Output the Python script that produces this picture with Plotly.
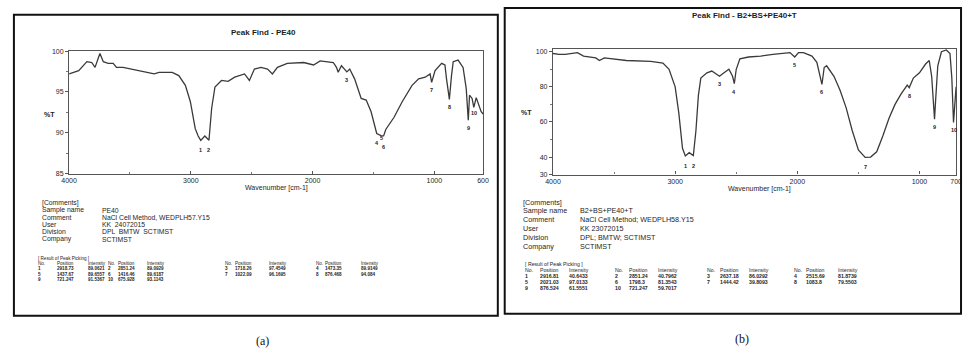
import plotly.graph_objects as go

W, H = 969, 358

# ---------------- data: panel (a) PE40 ----------------
a_wn = [4000, 3921, 3854, 3814, 3787, 3747, 3719, 3679, 3638, 3611, 3557, 3423, 3301, 3261,
        3153, 3099, 3045, 3004, 2964, 2940, 2918.73, 2885, 2851.24, 2829, 2802, 2748, 2694,
        2640, 2559, 2519, 2478, 2424, 2370, 2330, 2289, 2208, 2073, 1992, 1938, 1830, 1804,
        1790, 1763, 1718.26, 1695, 1655, 1601, 1560, 1520, 1473.35, 1437.67, 1416.46, 1399,
        1331, 1264, 1183, 1129, 1075, 1035, 1022.09, 994, 940, 913, 900, 876.468, 859, 845,
        805, 764, 738, 721.247, 711, 690, 675.928, 656, 616, 600]
a_t = [97.2, 97.6, 98.7, 98.6, 98.0, 99.7, 98.7, 98.5, 98.5, 98.0, 98.0, 97.6, 97.2, 97.4,
       97.4, 97.0, 95.8, 93.8, 90.5, 89.6, 89.06, 89.6, 89.09, 93.0, 95.6, 96.4, 96.3,
       96.8, 97.2, 96.4, 97.8, 98.0, 97.8, 97.2, 98.0, 98.5, 98.6, 98.3, 98.8, 98.6, 98.0,
       97.4, 98.2, 97.45, 97.8, 96.6, 94.2, 94.0, 92.6, 89.91, 89.66, 89.62, 90.4,
       91.9, 93.8, 95.8, 96.6, 96.8, 97.2, 96.17, 97.6, 98.5, 98.3, 96.6, 94.08, 97.0, 98.7,
       98.9, 98.0, 95.4, 91.54, 94.6, 94.2, 93.11, 94.3, 92.6, 92.3]

a_peak_no = [1, 2, 3, 4, 5, 6, 7, 8, 9, 10]
a_peak_pos = ["2918.73", "2851.24", "1718.26", "1473.35", "1437.67", "1416.46", "1022.09",
              "876.468", "721.247", "675.928"]
a_peak_int = ["89.0621", "89.0929", "97.4549", "89.9149", "89.6557", "89.6187", "96.1695",
              "94.084", "91.5367", "93.1143"]

# ---------------- data: panel (b) B2+BS+PE40+T ----------------
b_wn = [4000, 3950, 3900, 3800, 3750, 3650, 3620, 3580, 3400, 3200, 3100, 3050, 3000, 2970,
        2940, 2916.81, 2885, 2851.24, 2830, 2810, 2790, 2740, 2700, 2660, 2637.18, 2600, 2560,
        2530, 2515.69, 2500, 2470, 2400, 2300, 2200, 2100, 2060, 2021.03, 1990, 1950, 1880,
        1840, 1810, 1798.3, 1780, 1760, 1700, 1650, 1600, 1550, 1500, 1444.42, 1400, 1350,
        1300, 1250, 1200, 1150, 1100, 1083.8, 1050, 1000, 950, 920, 900, 885, 876.524, 868,
        850, 820, 780, 750, 735, 721.247, 710, 700]
b_t = [99.0, 98.5, 98.5, 99.5, 97.5, 96.5, 95.0, 96.5, 95.0, 94.5, 93.5, 90.0, 80.0, 65.0,
       45.0, 40.64, 42.5, 40.80, 55.0, 75.0, 85.0, 88.0, 89.0, 87.0, 86.03, 88.0, 90.0,
       86.0, 81.87, 90.0, 96.0, 97.0, 97.5, 98.5, 99.5, 99.5, 97.01, 99.5, 99.5, 97.5,
       94.0, 86.0, 81.35, 91.0, 92.0, 86.0, 78.0, 68.0, 55.0, 44.0, 39.81, 40.0, 43.0,
       52.0, 62.0, 70.0, 76.0, 81.0, 79.55, 85.0, 88.0, 93.0, 95.0, 86.0, 70.0, 61.56, 72.0,
       92.0, 100.0, 101.0, 99.0, 85.0, 59.70, 70.0, 80.0]

b_peak_no = [1, 2, 3, 4, 5, 6, 7, 8, 9, 10]
b_peak_pos = ["2916.81", "2851.24", "2637.18", "2515.69", "2021.03", "1798.3", "1444.42",
              "1083.8", "876.524", "721.247"]
b_peak_int = ["40.6433", "40.7962", "86.0292", "81.8739", "97.0133", "81.3543", "39.8093",
              "79.5503", "61.5551", "59.7017"]

# ---------------- texts ----------------
a_title = "Peak Find - PE40"
b_title = "Peak Find - B2+BS+PE40+T"
a_xticks = [4000, 3000, 2000, 1000, 600]
b_xticks = [4000, 3000, 2000, 1000, 700]
a_yticks = [85, 90, 95, 100]
b_yticks = [30, 40, 60, 80, 100]
comment_keys = ["Sample name", "Comment", "User", "Division", "Company"]
a_comment_vals = ["PE40", "NaCl Cell Method, WEDPLH57.Y15", "KK  24072015",
                  "DPL  BMTW  SCTIMST", "SCTIMST"]
b_comment_vals = ["B2+BS+PE40+T", "NaCl Cell Method; WEDPLH58.Y15", "KK 23072015",
                  "DPL; BMTW; SCTIMST", "SCTIMST"]
panel_labels = ["(a)", "(b)"]

# ---------------- helpers ----------------
def px(x):
    return x / W

def py(y):
    return 1 - y / H

INK = "#1e1e1e"
FONT = "Liberation Sans, Arial, sans-serif"

fig = go.Figure()

fig.add_trace(go.Scatter(x=a_wn, y=a_t, mode="lines", line=dict(color="#3a3a3a", width=1.3),
                         xaxis="x", yaxis="y", showlegend=False, hoverinfo="skip"))
fig.add_trace(go.Scatter(x=b_wn, y=b_t, mode="lines", line=dict(color="#3a3a3a", width=1.3),
                         xaxis="x2", yaxis="y2", showlegend=False, hoverinfo="skip"))

line_common = dict(showline=True, mirror=True, linecolor="#555", linewidth=1.2,
                   showgrid=False, zeroline=False, tickcolor="#555",
                   tickfont=dict(family=FONT, size=7, color=INK))
x_common = dict(ticks="inside", ticklen=3,
                minor=dict(tickvals=[3500, 2500, 1500], ticks="inside", ticklen=2,
                           tickcolor="#777"), **line_common)
y_common = dict(ticks="outside", ticklen=3, **line_common)

fig.update_layout(
    width=W, height=H, autosize=False,
    margin=dict(l=0, r=0, t=0, b=0),
    paper_bgcolor="white", plot_bgcolor="white",
    xaxis=dict(domain=[px(62), px(482)], range=[4000, 600], anchor="y",
               tickvals=a_xticks, ticktext=[str(v) for v in a_xticks], **x_common),
    yaxis=dict(domain=[py(173), py(48)], range=[85, 100], anchor="x",
               tickvals=a_yticks, ticktext=[str(v) for v in a_yticks],
               minor=dict(dtick=2.5, ticks="outside", ticklen=2, tickcolor="#777"),
               **y_common),
    xaxis2=dict(domain=[px(553), px(962)], range=[4000, 700], anchor="y2",
                tickvals=b_xticks, ticktext=[str(v) for v in b_xticks], **x_common),
    yaxis2=dict(domain=[py(174), py(46)], range=[30, 101.5], anchor="x2",
                tickvals=b_yticks, ticktext=[str(v) for v in b_yticks],
                minor=dict(tickvals=[50, 70, 90], ticks="outside", ticklen=2, tickcolor="#777"),
                **y_common),
)

ann = []
shapes = []

# panel frames
shapes.append(dict(type="rect", xref="paper", yref="paper", x0=px(6), x1=px(497),
                   y0=py(318), y1=py(11), line=dict(color="#111", width=2)))
shapes.append(dict(type="rect", xref="paper", yref="paper", x0=px(504), x1=px(967),
                   y0=py(316), y1=py(4), line=dict(color="#111", width=2)))

def text(x, y, s, size=7, bold=False, anchor="left", color=INK):
    ann.append(dict(xref="paper", yref="paper", x=px(x), y=py(y), text=("<b>%s</b>" % s) if bold else s,
                    showarrow=False, xanchor=anchor, yanchor="middle",
                    font=dict(family=FONT, size=size, color=color)))

# titles
text(259, 29, a_title, size=8, bold=True, anchor="center")
text(747, 12, b_title, size=8, bold=True, anchor="center")
# axis titles
text(272, 188, "Wavenumber [cm-1]", size=7, anchor="center")
text(763, 189, "Wavenumber [cm-1]", size=7, anchor="center")
text(42, 113, "%T", size=7, bold=True, anchor="center")
text(526, 111, "%T", size=7, bold=True, anchor="center")

# peak labels
def peak_labels(wn_list, t_list, xref, yref, nums, dy):
    for i, (w, t) in enumerate(zip(wn_list, t_list)):
        ann.append(dict(xref=xref, yref=yref, x=w, y=t, text="<b>%d</b>" % nums[i],
                        showarrow=False, yanchor="top", yshift=-3 - dy[i],
                        font=dict(family=FONT, size=5.5, color=INK)))

a_peak_wn = [float(v) for v in a_peak_pos]
a_peak_t = [float(v) for v in a_peak_int]
b_peak_wn = [float(v) for v in b_peak_pos]
b_peak_t = [float(v) for v in b_peak_int]
peak_labels(a_peak_wn, a_peak_t, "x", "y", a_peak_no, [2, 2, 0, 2, -6, 3, 0, 0, 0, -2])
peak_labels(b_peak_wn, b_peak_t, "x2", "y2", b_peak_no, [2, 2, 0, 0, 0, 0, 2, 0, 0, 0])

# comments blocks
def comments(x0, xv, y0, dy, vals, size, hdr_dy):
    text(x0, y0, "[Comments]", size=size)
    for i, (k, v) in enumerate(zip(comment_keys, vals)):
        text(x0, y0 + hdr_dy + i * dy, k, size=size)
        text(xv, y0 + hdr_dy + i * dy, v, size=size)

comments(32, 93, 203, 7.4, a_comment_vals, 6.8, 7.2)
comments(521, 578, 202, 9.0, b_comment_vals, 7.2, 9.0)

# peak tables
def table(x_groups, y0, dy, nos, poss, ints, size):
    text(x_groups[0][0], y0 - dy, "[ Result of Peak Picking ]", size=size)
    for g, (xn, xp, xi) in enumerate(x_groups):
        text(xn, y0, "No.", size=size)
        text(xp, y0, "Position", size=size)
        text(xi, y0, "Intensity", size=size)
        for r in range(3):
            k = r * 4 + g
            if k < len(nos):
                yy = y0 + (r + 1) * dy
                text(xn, yy, str(nos[k]), size=size, bold=True)
                text(xp, yy, poss[k], size=size, bold=True)
                text(xi, yy, ints[k], size=size, bold=True)

table([(28, 48, 79), (99, 110, 139), (218, 228, 263), (310, 320, 356)],
      265, 5.2, a_peak_no, a_peak_pos, a_peak_int, 4.6)
table([(523, 538, 567), (614, 628, 658), (707, 720, 750), (795, 808, 840)],
      271, 6.3, b_peak_no, b_peak_pos, b_peak_int, 5.2)

# panel captions
text(258, 344, panel_labels[0], size=12, anchor="center", color="#111")
text(745, 342, panel_labels[1], size=12, anchor="center", color="#111")
for a in ann:
    if a["text"] in panel_labels:
        a["font"]["family"] = "Liberation Serif, Times New Roman, serif"

fig.update_layout(annotations=ann, shapes=shapes)
fig.write_html("out.html")
